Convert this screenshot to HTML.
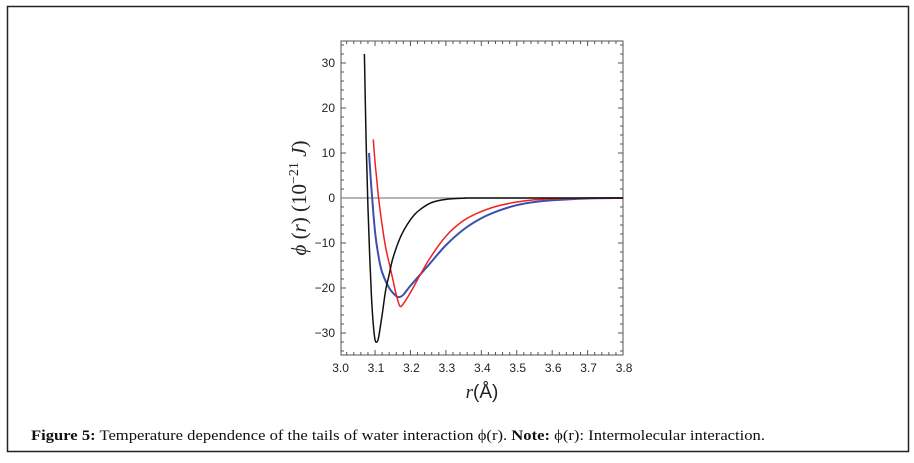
<!DOCTYPE html>
<html><head><meta charset="utf-8"><style>
html,body{margin:0;padding:0;background:#fff;width:914px;height:463px;overflow:hidden}
svg{display:block}
</style></head><body>
<svg id="fig" width="914" height="463" viewBox="0 0 914 463" xmlns="http://www.w3.org/2000/svg">
<rect x="7.5" y="6.5" width="901" height="445" fill="none" stroke="#222" stroke-width="1.5"/>
<g id="plot"></g>
<text x="31" y="440" font-family="'Liberation Serif',serif" font-size="15" fill="#111" textLength="734" lengthAdjust="spacingAndGlyphs"><tspan font-weight="bold">Figure 5:</tspan> Temperature dependence of the tails of water interaction ϕ(r). <tspan font-weight="bold">Note:</tspan> ϕ(r): Intermolecular interaction.</text>
</svg>
<script>
const xTicks=[3.0,3.1,3.2,3.3,3.4,3.5,3.6,3.7,3.8];
const yTicks=[30,20,10,0,-10,-20,-30];
const blackX=[3.07,3.075,3.08,3.085,3.09,3.095,3.1,3.105,3.11,3.12,3.13,3.14,3.15,3.17,3.19,3.21,3.23,3.26,3.3,3.35,3.4,3.8];
const blackY=[32,12,-2,-13,-22,-28,-31.5,-32,-31,-26,-20.5,-17,-13.5,-9,-6,-3.8,-2.4,-1,-0.3,-0.05,0,0];
const blueX=[3.083,3.09,3.1,3.11,3.12,3.14,3.16,3.17,3.18,3.2,3.25,3.3,3.35,3.4,3.45,3.5,3.55,3.6,3.7,3.8];
const blueY=[10,2,-7.5,-13,-16.5,-20,-21.8,-22,-21.5,-19.5,-15,-10.5,-7,-4.5,-2.8,-1.6,-0.9,-0.5,-0.1,0];
const redX=[3.095,3.1,3.105,3.11,3.12,3.13,3.14,3.15,3.16,3.17,3.18,3.2,3.25,3.3,3.35,3.4,3.45,3.5,3.55,3.6,3.7,3.8];
const redY=[13,8,4,0,-6,-11,-14.5,-18,-21.5,-24,-23.5,-21,-14,-8.5,-5,-3,-1.7,-0.9,-0.4,-0.2,0,0];

const NS='http://www.w3.org/2000/svg';
const L=341,R=623,T=41,B=355;
const sx=v=>339.6+(v-3.0)*354.3;
const sy=v=>198-v*4.5;
const g=document.getElementById('plot');
function mk(t,a,p){const e=document.createElementNS(NS,t);for(const k in a)e.setAttribute(k,a[k]);(p||g).appendChild(e);return e;}

const frame=mk('rect',{x:L,y:T,width:R-L,height:B-T,fill:'none',stroke:'#555','stroke-width':1});



for(let i=0;i<=40;i++){const v=3.0+i*0.02;const x=sx(v);if(x<L||x>R)continue;const len=(Math.abs(v*10-Math.round(v*10))<1e-6)?5:3;
 const t1=mk('line',{x1:x,y1:B,x2:x,y2:B-len,stroke:'#555','stroke-width':1});
 
 
 const t2=mk('line',{x1:x,y1:T,x2:x,y2:T+len,stroke:'#555','stroke-width':1});
 
 }
for(let v=-34;v<=34;v+=2){const y=sy(v);const len=(v%10===0)?5:3;
 const t1=mk('line',{x1:L,y1:y,x2:L+len,y2:y,stroke:'#555','stroke-width':1});
 
 
 const t2=mk('line',{x1:R,y1:y,x2:R-len,y2:y,stroke:'#555','stroke-width':1});
 
 }

xTicks.forEach(v=>{const t=mk('text',{x:sx(v)+1,y:372,'text-anchor':'middle','font-family':"'Liberation Sans',sans-serif",'font-size':12,fill:'#222'});t.textContent=v.toFixed(1);
 
 });
yTicks.forEach(v=>{const t=mk('text',{x:335,y:sy(v)+4,'text-anchor':'end','font-family':"'Liberation Sans',sans-serif",'font-size':12,fill:'#222'});t.textContent=(v<0?'\u2212'+(-v):String(v));
 
 });

const zl=mk('line',{x1:L,y1:sy(0),x2:R,y2:sy(0),stroke:'#888','stroke-width':1.2});



function path(xs,ys){const p=xs.map((x,i)=>[sx(x),sy(ys[i])]);let d='M'+p[0][0]+','+p[0][1];
 for(let i=0;i<p.length-1;i++){const p0=p[i-1]||p[i],p1=p[i],p2=p[i+1],p3=p[i+2]||p2;
  d+=' C'+(p1[0]+(p2[0]-p0[0])/6)+','+(p1[1]+(p2[1]-p0[1])/6)+' '+(p2[0]-(p3[0]-p1[0])/6)+','+(p2[1]-(p3[1]-p1[1])/6)+' '+p2[0]+','+p2[1];}
 return d;}
const sb=mk('path',{d:path(blueX,blueY),fill:'none',stroke:'#3a4fb0','stroke-width':2});


const sr=mk('path',{d:path(redX,redY),fill:'none',stroke:'#ee2222','stroke-width':1.5});


const sk=mk('path',{d:path(blackX,blackY),fill:'none',stroke:'#111','stroke-width':1.5});



const xt=mk('text',{x:482,y:398,'text-anchor':'middle','font-family':"'Liberation Sans',sans-serif",'font-size':19,fill:'#222'});
xt.innerHTML='<tspan font-family="Liberation Serif" font-style="italic">r</tspan>(Å)';


const yt=mk('text',{x:0,y:0,'text-anchor':'middle','font-family':"'Liberation Serif',serif",'font-size':21,fill:'#222',transform:'translate(306,198) rotate(-90)'});
yt.innerHTML='<tspan font-style="italic">ϕ</tspan> (<tspan font-style="italic">r</tspan>) (10<tspan dy="-8" font-size="14">−21</tspan><tspan dy="8"> </tspan><tspan font-style="italic">J</tspan>)';


</script>
</body></html>
